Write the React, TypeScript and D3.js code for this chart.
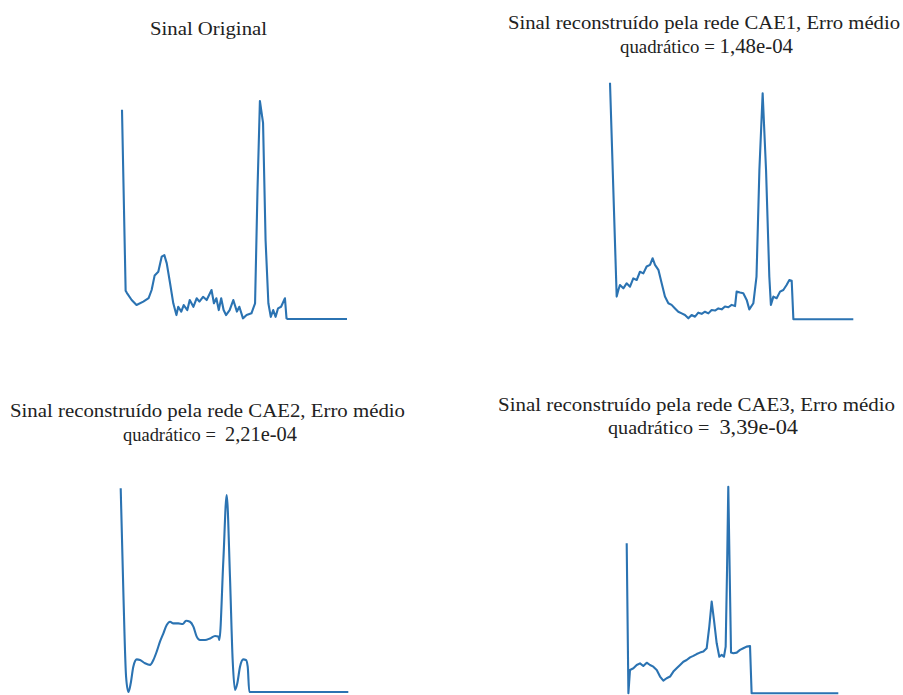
import React from "react";
import * as d3 from "d3";

// ---- Data (sample index, normalized amplitude) ----
const origIdx = [0, 3, 4, 8, 12, 17.6, 22, 24.5, 27, 30, 32.8, 35, 37, 39.7, 42.4, 45, 46.5, 49, 51, 54, 56, 59, 61.7, 64, 67, 70, 74, 76, 78, 80, 82, 84, 86, 89, 92, 95, 97, 100, 103, 107, 110, 112, 114, 116.6, 118.7, 121, 123, 125, 127, 129, 131.5, 134.7, 136, 137, 186];
const origVal = [0.96, 0.13, 0.12, 0.087, 0.064, 0.08, 0.096, 0.133, 0.2, 0.217, 0.286, 0.293, 0.255, 0.165, 0.072, 0.018, 0.056, 0.034, 0.064, 0.041, 0.087, 0.056, 0.095, 0.08, 0.102, 0.087, 0.133, 0.072, 0.095, 0.041, 0.095, 0.041, 0.018, 0.041, 0.087, 0.034, 0.056, 0.003, 0.018, 0.026, 0.072, 0.59, 1.0, 0.9, 0.36, 0.072, 0.01, 0.041, 0.01, 0.049, 0.056, 0.095, 0.003, 0, 0];

const cae1Idx = [0, 5.1, 6.4, 7.6, 10.2, 12.7, 15.3, 17.8, 20.4, 22.9, 25.5, 28, 30.6, 32.6, 34.4, 37, 39.5, 42, 44.6, 47.1, 49.7, 52.2, 54.8, 57.3, 59.9, 62.4, 65, 67.5, 70.1, 72.6, 75.2, 77.7, 80.3, 82.8, 85.4, 87.9, 90.5, 93, 95.6, 96.8, 99.4, 101.9, 104.5, 106.5, 109.6, 112, 114.2, 116.7, 119.3, 121.8, 123, 124.9, 127.4, 130, 132.5, 135, 137.1, 138.9, 140.2, 186];
const cae1Val = [1.0, 0.096, 0.124, 0.145, 0.131, 0.152, 0.138, 0.173, 0.166, 0.201, 0.194, 0.223, 0.23, 0.258, 0.23, 0.209, 0.152, 0.096, 0.068, 0.061, 0.046, 0.032, 0.025, 0.018, 0.004, 0.018, 0.011, 0.028, 0.023, 0.032, 0.025, 0.039, 0.037, 0.046, 0.042, 0.054, 0.051, 0.061, 0.056, 0.117, 0.113, 0.11, 0.082, 0.042, 0.068, 0.18, 0.63, 0.955, 0.63, 0.18, 0.061, 0.096, 0.089, 0.117, 0.124, 0.145, 0.166, 0.163, 0, 0];

const cae2Idx = [0, 2.2, 4.4, 6.3, 8.2, 10.3, 13.1, 15.8, 19.9, 24, 26.7, 29.4, 32.1, 34.9, 37.6, 40.3, 43, 47.1, 50.7, 53.4, 56.6, 59.4, 62.1, 64.8, 68.9, 73, 77.1, 79.8, 80.6, 83.9, 86.6, 89.3, 91.5, 93.4, 95.3, 97.5, 100.2, 102.4, 103.8, 105.1, 186];
const cae2Val = [1.0, 0.484, 0.075, 0.0, 0.043, 0.124, 0.16, 0.157, 0.141, 0.133, 0.157, 0.198, 0.247, 0.288, 0.329, 0.345, 0.337, 0.337, 0.334, 0.35, 0.345, 0.321, 0.272, 0.255, 0.255, 0.263, 0.275, 0.272, 0.255, 0.648, 0.967, 0.566, 0.157, 0.01, 0.043, 0.124, 0.16, 0.157, 0.124, 0, 0];

const cae3Idx = [0, 1.5, 2.9, 5.9, 8.8, 11.7, 14.6, 17.6, 20.5, 23.4, 26.4, 29.3, 32.2, 35.1, 38.1, 41, 43.9, 46.9, 49.8, 52.7, 55.7, 58.6, 61.5, 64.4, 67.4, 70.3, 72.6, 74.7, 76.7, 79.1, 81.4, 83.5, 85.5, 87, 88.2, 89.3, 90.5, 91.7, 93.7, 96.7, 99.6, 102.5, 105.4, 108.4, 109.8, 186];
const cae3Val = [0.726, 0, 0.113, 0.121, 0.137, 0.145, 0.132, 0.148, 0.137, 0.129, 0.113, 0.081, 0.061, 0.073, 0.081, 0.105, 0.121, 0.137, 0.153, 0.161, 0.174, 0.181, 0.19, 0.197, 0.202, 0.218, 0.323, 0.444, 0.355, 0.242, 0.177, 0.186, 0.177, 0.226, 0.597, 1.0, 0.597, 0.197, 0.194, 0.197, 0.21, 0.218, 0.226, 0.229, 0, 0];

const titleLine1 = [
  "Sinal Original",
  "Sinal reconstruído pela rede CAE1, Erro médio",
  "Sinal reconstruído pela rede CAE2, Erro médio",
  "Sinal reconstruído pela rede CAE3, Erro médio",
];
const titleLabel2 = ["", "quadrático = ", "quadrático =  ", "quadrático =  "];
const titleNumber = ["", "1,48e-04", "2,21e-04", "3,39e-04"];

const seriesIdx = [origIdx, cae1Idx, cae2Idx, cae3Idx];
const seriesVal = [origVal, cae1Val, cae2Val, cae3Val];

// ---- Layout ----
const panels = [
  { x0: 122, x1: 347, yTop: 101, yBase: 319, smooth: false, t1x: 208.5, t1y: 35, t1w: 117, t2y: 0, t2x: 0, t2w: 0 },
  { x0: 610, x1: 853.3, yTop: 82.7, yBase: 319.3, smooth: false, t1x: 704, t1y: 29, t1w: 392, t2x: 706.5, t2y: 53, t2w: 173 },
  { x0: 120.7, x1: 348.3, yTop: 488.3, yBase: 692, smooth: true, t1x: 207.5, t1y: 417, t1w: 395, t2x: 210, t2y: 441, t2w: 174 },
  { x0: 626.7, x1: 838.3, yTop: 486.7, yBase: 693.3, smooth: false, t1x: 696.5, t1y: 411, t1w: 397, t2x: 703, t2y: 434, t2w: 190 },
];

const LINE_COLOR = "#2b73b2";

export default function App() {
  return (
    <svg
      width={903}
      height={695}
      style={{ position: "absolute", left: 0, top: 0, background: "#fff" }}
      fontFamily="'Liberation Serif', 'Times New Roman', serif"
    >
      <rect x={0} y={0} width={903} height={695} fill="#fff" />
      {panels.map((p, i) => {
        const x = d3.scaleLinear().domain([0, 186]).range([p.x0, p.x1]);
        const y = d3.scaleLinear().domain([0, 1]).range([p.yBase, p.yTop]);
        const pts: [number, number][] = seriesIdx[i].map((k, j) => [k, seriesVal[i][j]]);
        const line = d3
          .line<[number, number]>()
          .x((d) => x(d[0]))
          .y((d) => y(d[1]))
          .curve(p.smooth ? d3.curveMonotoneX : d3.curveLinear);
        return (
          <g key={i}>
            <path d={line(pts) || ""} fill="none" stroke={LINE_COLOR} strokeWidth={2.1} strokeLinejoin="round" />
            <text
              x={p.t1x}
              y={p.t1y}
              textAnchor="middle"
              fontSize={19}
              fill="#222"
              textLength={p.t1w}
              lengthAdjust="spacingAndGlyphs"
            >
              {titleLine1[i]}
            </text>
            {titleNumber[i] && (
              <text
                x={p.t2x}
                y={p.t2y}
                textAnchor="middle"
                fill="#222"
                textLength={p.t2w}
                lengthAdjust="spacingAndGlyphs"
                style={{ whiteSpace: "pre" }}
              >
                <tspan fontSize={19}>{titleLabel2[i]}</tspan>
                <tspan fontSize={21}>{titleNumber[i]}</tspan>
              </text>
            )}
          </g>
        );
      })}
    </svg>
  );
}
